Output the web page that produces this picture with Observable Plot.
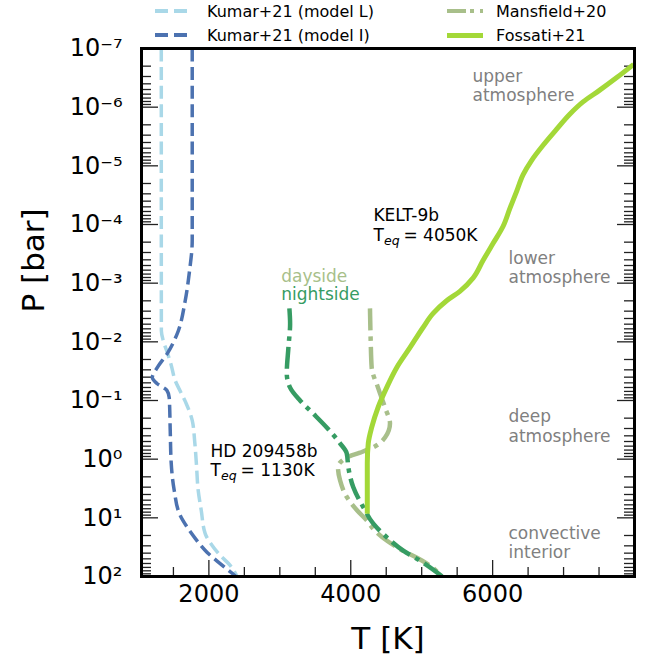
<!DOCTYPE html>
<html>
<head>
<meta charset="utf-8">
<script src="https://cdn.jsdelivr.net/npm/d3@7"></script>
<script src="https://cdn.jsdelivr.net/npm/@observablehq/plot@0.6"></script>
<style>
  body { margin: 0; background: #fff; font-family: "DejaVu Sans", sans-serif; }
  #wrap { position: relative; width: 654px; height: 660px; }
  .lg-sw { position: absolute; width: 36px; }
  .lg-tx { position: absolute; font-size: 16px; line-height: 16px; color: black; white-space: nowrap; }
</style>
</head>
<body>
<div id="wrap"></div>
<script>
// ---------------- data ----------------
// Kumar+21 model L (HD 209458b)
const kumarL_T    = [1329, 1329, 1330, 1357, 1413, 1469, 1525, 1600, 1680, 1765, 1800, 1825, 1849, 1892, 1948, 2046, 2159, 2300, 2398];
const kumarL_logP = [-7, -4.5, -2.19, -2.02, -1.82, -1.60, -1.34, -1.15, -0.95, -0.66, -0.30, 0.10, 0.53, 0.87, 1.27, 1.47, 1.64, 1.81, 2.0];
// Kumar+21 model I (HD 209458b)
const kumarI_T    = [1765, 1765, 1723, 1666, 1554, 1413, 1272, 1202, 1268, 1409, 1441, 1455, 1469, 1511, 1596, 1694, 1807, 1976, 2159, 2384];
const kumarI_logP = [-7, -3.73, -3.17, -2.70, -2.14, -1.80, -1.56, -1.39, -1.29, -1.17, -1.05, -0.49, 0.07, 0.53, 0.96, 1.16, 1.35, 1.59, 1.78, 2.0];
// Mansfield+20 (KELT-9b) dayside
const dayside_T    = [4271, 4281, 4295, 4384, 4483, 4553, 4483, 4313, 4130, 3947, 3820, 3849, 3947, 4088, 4229, 4342, 4511, 4736, 4933, 5074, 5285];
const dayside_logP = [-2.57, -2.02, -1.56, -1.22, -0.88, -0.61, -0.37, -0.20, -0.11, -0.03, 0.14, 0.36, 0.65, 0.87, 1.05, 1.22, 1.39, 1.56, 1.68, 1.78, 2.0];
// Mansfield+20 (KELT-9b) nightside
const nightside_T    = [3135, 3145, 3121, 3098, 3145, 3285, 3468, 3661, 3849, 3943, 3966, 4036, 4177, 4318, 4506, 4740, 4975, 5290];
const nightside_logP = [-2.57, -2.31, -1.90, -1.46, -1.22, -1.0, -0.78, -0.54, -0.27, -0.10, 0.14, 0.48, 0.82, 1.10, 1.33, 1.56, 1.73, 2.0];
// Fossati+21 (KELT-9b)
const fossati_T    = [7988, 7745, 7510, 7274, 7087, 6900, 6711, 6548, 6430, 6337, 6242, 6148, 6007, 5866, 5726, 5538, 5351, 5158, 5017, 4834, 4647, 4506, 4384, 4295, 4247, 4233, 4233];
const fossati_logP = [-6.73, -6.50, -6.29, -6.09, -5.88, -5.62, -5.35, -5.09, -4.85, -4.56, -4.27, -3.97, -3.68, -3.39, -3.09, -2.86, -2.70, -2.48, -2.24, -1.90, -1.56, -1.22, -0.88, -0.54, -0.27, 0.07, 0.93];

// axes
const xDomain = [1050, 8000];
const yDomain = [1e-7, 1e2];
const xMajor = [2000, 4000, 6000];
const xMinor = [1500, 2500, 3000, 3500, 4500, 5000, 5500, 6500, 7000, 7500];
const yMajorExp = [-7, -6, -5, -4, -3, -2, -1, 0, 1, 2];
const minorMult = [2, 3, 4, 5, 6, 7, 8, 9];
const xTitle = "T [K]";
const yTitle = "P [bar]";

// annotations
const regionLabels = ["upper\natmosphere", "lower\natmosphere", "deep\natmosphere", "convective\ninterior"];
const regionT      = [5716, 6224, 6224, 6224];
const regionLogP   = [-6.10, -3.00, -0.30, 1.69];
const planetNames  = ["KELT-9b", "HD 209458b"];
const planetTeq    = ["4050K", "1130K"];
const planetT      = [4320, 2023];
const planetLogP   = [-3.727, 0.29];
const sideLabels   = ["dayside", "nightside"];
const sideT        = [3019, 3019];
const sideLogP     = [-3.017, -2.705];

// legend
const legendNames = ["Kumar+21 (model L)", "Kumar+21 (model I)", "Mansfield+20", "Fossati+21"];

// ---------------- styles ----------------
const colL = "#a9d8e8", colI = "#4c72b0", colDay = "#a8bf8a", colNight = "#369c63", colFos = "#a3d838";
const dashK = "13,5.6", dashM = "22,6,4.5,6";
const legendColors = [colL, colI, colDay, colFos];
const legendPattern = ["dash", "dash", "dashdot", "solid"];
const legendWidth = [3.5, 3.5, 4.5, 5];
const legendSwX = [155, 155, 447, 447];
const legendTxX = [207, 207, 496, 496];
const legendBase = [17, 41, 17, 41];
const sideColors = [colDay, colNight];

const W = 654, H = 660, mL = 141, mR = 20, mT = 48, mB = 84;
const fw = W - mL - mR, fh = H - mT - mB;

const series = (T, logP) => T.map((t, i) => ({T: t, P: 10 ** logP[i]}));
const yMajor = yMajorExp.map(e => 10 ** e);
const yMinor = yMajorExp.slice(0, -1).flatMap(e => minorMult.map(m => m * 10 ** e));
const SUP = {"-": "\u207B", "0": "\u2070", "1": "\u00B9", "2": "\u00B2", "3": "\u00B3", "4": "\u2074",
             "5": "\u2075", "6": "\u2076", "7": "\u2077", "8": "\u2078", "9": "\u2079"};
const supFmt = d => "10" + String(Math.round(Math.log10(d))).split("").map(c => SUP[c]).join("");

const tk = {stroke: "#222", strokeWidth: 1.3};
const lineOpts = {x: "T", y: "P", strokeLinecap: "butt", strokeLinejoin: "round", curve: "monotone-y"};
const pX = (d, i) => planetT[i], pY = (d, i) => 10 ** planetLogP[i];

const plot = Plot.plot({
  width: W, height: H,
  marginLeft: mL, marginRight: mR, marginTop: mT, marginBottom: mB,
  style: {fontFamily: "DejaVu Sans, sans-serif", background: "white", color: "black", overflow: "visible"},
  x: {domain: xDomain},
  y: {type: "log", domain: yDomain, reverse: true},
  marks: [
    Plot.axisY({ticks: yMajor, tickSize: 0, tickPadding: 19, fontSize: 24, tickFormat: supFmt, label: null}),
    Plot.axisX({ticks: xMajor, tickSize: 0, tickPadding: 8, fontSize: 24, tickFormat: d => String(d), label: null}),
    // axis titles
    Plot.text([yTitle], {text: d => d, frameAnchor: "left", rotate: -90, dx: -120, lineAnchor: "top", fontSize: 31, fill: "black"}),
    Plot.text([xTitle], {text: d => d, frameAnchor: "bottom", dy: 72, lineAnchor: "bottom", fontSize: 31, fill: "black"}),
    // inward ticks (left, right, bottom)
    Plot.tickY(yMajor, {y: d => d, insetRight: fw - 17, ...tk}),
    Plot.tickY(yMinor, {y: d => d, insetRight: fw - 10, ...tk}),
    Plot.tickY(yMajor, {y: d => d, insetLeft: fw - 17, ...tk}),
    Plot.tickY(yMinor, {y: d => d, insetLeft: fw - 10, ...tk}),
    Plot.tickX(xMajor, {x: d => d, insetTop: fh - 16, ...tk}),
    Plot.tickX(xMinor, {x: d => d, insetTop: fh - 9, ...tk}),
    // curves
    Plot.line(series(kumarL_T, kumarL_logP), {...lineOpts, stroke: colL, strokeWidth: 3.5, strokeDasharray: dashK}),
    Plot.line(series(kumarI_T, kumarI_logP), {...lineOpts, stroke: colI, strokeWidth: 3.5, strokeDasharray: dashK}),
    Plot.line(series(dayside_T, dayside_logP), {...lineOpts, stroke: colDay, strokeWidth: 4.5, strokeDasharray: dashM}),
    Plot.line(series(nightside_T, nightside_logP), {...lineOpts, stroke: colNight, strokeWidth: 4.5, strokeDasharray: dashM}),
    Plot.line(series(fossati_T, fossati_logP), {...lineOpts, stroke: colFos, strokeWidth: 5}),
    // annotations
    Plot.text(regionLabels, {x: (d, i) => regionT[i], y: (d, i) => 10 ** regionLogP[i], text: d => d,
      textAnchor: "start", lineAnchor: "bottom", lineHeight: 1.14, fontSize: 17, fill: "#808080"}),
    Plot.text(planetNames, {x: pX, y: pY, text: d => d, dy: -19.4,
      textAnchor: "start", lineAnchor: "bottom", fontSize: 17, fill: "black"}),
    Plot.text(planetNames, {x: pX, y: pY, text: () => "T",
      textAnchor: "start", lineAnchor: "bottom", fontSize: 17, fill: "black"}),
    Plot.text(planetNames, {x: pX, y: pY, text: () => "eq", dx: 10.5, dy: 4, fontStyle: "italic",
      textAnchor: "start", lineAnchor: "bottom", fontSize: 12.5, fill: "black"}),
    Plot.text(planetTeq, {x: pX, y: pY, text: d => "= " + d, dx: 30,
      textAnchor: "start", lineAnchor: "bottom", fontSize: 17, fill: "black"}),
    Plot.text(sideLabels, {x: (d, i) => sideT[i], y: (d, i) => 10 ** sideLogP[i], text: d => d,
      textAnchor: "start", lineAnchor: "bottom", fontSize: 17, fill: (d, i) => sideColors[i]}),
    Plot.frame({stroke: "black", strokeWidth: 3})
  ]
});

const wrap = document.getElementById("wrap");
wrap.appendChild(plot);

// legend (HTML, above the plot area)
const patternCss = (p, c) => p === "dash"
  ? `repeating-linear-gradient(to right, ${c} 0 13px, transparent 13px 18.6px)`
  : p === "dashdot"
  ? `repeating-linear-gradient(to right, ${c} 0 19px, transparent 19px 23px, ${c} 23px 27.5px, transparent 27.5px 33px)`
  : c;
legendNames.forEach((name, i) => {
  const sw = document.createElement("div");
  sw.className = "lg-sw";
  sw.style.left = legendSwX[i] + "px";
  sw.style.top = (legendBase[i] - 6 - legendWidth[i] / 2) + "px";
  sw.style.height = legendWidth[i] + "px";
  sw.style.background = patternCss(legendPattern[i], legendColors[i]);
  wrap.appendChild(sw);
  const tx = document.createElement("div");
  tx.className = "lg-tx";
  tx.style.left = legendTxX[i] + "px";
  tx.style.top = (legendBase[i] - 13) + "px";
  tx.textContent = name;
  wrap.appendChild(tx);
});
</script>
</body>
</html>
